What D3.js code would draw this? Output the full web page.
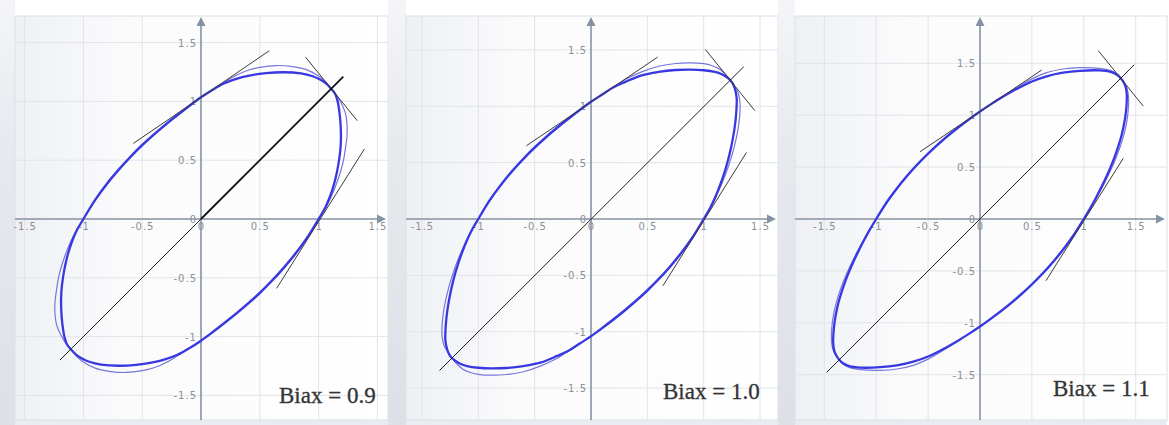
<!DOCTYPE html>
<html>
<head>
<meta charset="utf-8">
<script src="https://cdn.jsdelivr.net/npm/d3@7"></script>
<style>
  body { margin: 0; background: #ffffff; }
  svg { display: block; }
</style>
</head>
<body>
<svg id="chart" width="1169" height="425"></svg>
<script>
// ---- values ----
const tickValues = [-1.5, -1, -0.5, 0, 0.5, 1, 1.5];
const tickLabels = ["-1.5", "-1", "-0.5", "0", "0.5", "1", "1.5"];
const biaxLabels = ["Biax = 0.9", "Biax = 1.0", "Biax = 1.1"];

// yield loci (stress ratios), Biax = 0.9
const thickCurve09 = [
  [1.000, 0.000], [1.058, 0.100], [1.100, 0.200], [1.132, 0.300], [1.156, 0.400], [1.174, 0.500],
  [1.186, 0.600], [1.190, 0.700], [1.187, 0.800], [1.178, 0.900], [1.162, 1.000], [1.140, 1.065],
  [1.105, 1.110],
  [1.060, 1.155], [1.000, 1.192], [0.950, 1.214], [0.850, 1.238], [0.700, 1.248], [0.550, 1.240],
  [0.400, 1.218], [0.300, 1.192], [0.200, 1.155], [0.100, 1.100],
  [0.000, 1.035],
  [-0.100, 0.962], [-0.200, 0.885], [-0.300, 0.805], [-0.400, 0.720], [-0.500, 0.630],
  [-0.600, 0.530], [-0.700, 0.420], [-0.800, 0.300], [-0.900, 0.163],
  [-1.000, 0.000], [-1.058, -0.100], [-1.100, -0.200], [-1.132, -0.300], [-1.156, -0.400], [-1.174, -0.500],
  [-1.186, -0.600], [-1.190, -0.700], [-1.187, -0.800], [-1.178, -0.900], [-1.162, -1.000], [-1.140, -1.065],
  [-1.105, -1.110],
  [-1.060, -1.155], [-1.000, -1.192], [-0.950, -1.214], [-0.850, -1.238], [-0.700, -1.248], [-0.550, -1.240],
  [-0.400, -1.218], [-0.300, -1.192], [-0.200, -1.155], [-0.100, -1.100],
  [0.000, -1.035],
  [0.100, -0.962], [0.200, -0.885], [0.300, -0.805], [0.400, -0.720], [0.500, -0.630],
  [0.600, -0.530], [0.700, -0.420], [0.800, -0.300], [0.900, -0.163]
];
const thinCurve09 = [
  [1.000, 0.000], [1.062, 0.100], [1.112, 0.200], [1.152, 0.300], [1.186, 0.400], [1.212, 0.500],
  [1.228, 0.600], [1.241, 0.700], [1.242, 0.800], [1.228, 0.900], [1.190, 0.990], [1.150, 1.055],
  [1.105, 1.110],
  [1.060, 1.165], [1.000, 1.215], [0.900, 1.268], [0.780, 1.295], [0.640, 1.305], [0.500, 1.290],
  [0.400, 1.265], [0.300, 1.222], [0.200, 1.163], [0.100, 1.100],
  [0.000, 1.035],
  [-0.100, 0.955], [-0.200, 0.876], [-0.300, 0.796], [-0.400, 0.711], [-0.500, 0.620],
  [-0.600, 0.520], [-0.700, 0.410], [-0.800, 0.290], [-0.900, 0.155],
  [-1.000, 0.000], [-1.062, -0.100], [-1.112, -0.200], [-1.152, -0.300], [-1.186, -0.400], [-1.212, -0.500],
  [-1.228, -0.600], [-1.241, -0.700], [-1.242, -0.800], [-1.228, -0.900], [-1.190, -0.990], [-1.150, -1.055],
  [-1.105, -1.110],
  [-1.060, -1.165], [-1.000, -1.215], [-0.900, -1.268], [-0.780, -1.295], [-0.640, -1.305], [-0.500, -1.290],
  [-0.400, -1.265], [-0.300, -1.222], [-0.200, -1.163], [-0.100, -1.100],
  [0.000, -1.035],
  [0.100, -0.955], [0.200, -0.876], [0.300, -0.796], [0.400, -0.711], [0.500, -0.620],
  [0.600, -0.520], [0.700, -0.410], [0.800, -0.290], [0.900, -0.155]
];
const tangents09 = [
  [[-0.575, 0.643], [0.581, 1.431]],
  [[0.890, 1.375], [1.329, 0.836]],
  [[0.643, -0.590], [1.389, 0.595]]
];
const diagonal09 = [[-1.20, -1.20], [1.21, 1.21]];

// yield loci (stress ratios), Biax = 1.0
const thickCurve10 = [
  [1.000, 0.000], [1.058, 0.100], [1.105, 0.200], [1.145, 0.300], [1.180, 0.400], [1.210, 0.500],
  [1.235, 0.600], [1.256, 0.700], [1.273, 0.800], [1.285, 0.900], [1.292, 1.000], [1.292, 1.080],
  [1.275, 1.160], [1.256, 1.205],
  [1.234, 1.234],
  [1.205, 1.258], [1.160, 1.285], [1.100, 1.305], [1.000, 1.320], [0.880, 1.326], [0.750, 1.322],
  [0.600, 1.305], [0.450, 1.275], [0.300, 1.215], [0.200, 1.170], [0.100, 1.105],
  [0.000, 1.040],
  [-0.100, 0.968], [-0.200, 0.892], [-0.300, 0.812], [-0.400, 0.727], [-0.500, 0.635],
  [-0.600, 0.535], [-0.700, 0.425], [-0.800, 0.303], [-0.900, 0.165],
  [-1.000, 0.000], [-1.058, -0.100], [-1.105, -0.200], [-1.145, -0.300], [-1.180, -0.400], [-1.210, -0.500],
  [-1.235, -0.600], [-1.256, -0.700], [-1.273, -0.800], [-1.285, -0.900], [-1.292, -1.000], [-1.292, -1.080],
  [-1.275, -1.160], [-1.256, -1.205],
  [-1.234, -1.234],
  [-1.205, -1.258], [-1.160, -1.285], [-1.100, -1.305], [-1.000, -1.320], [-0.880, -1.326], [-0.750, -1.322],
  [-0.600, -1.305], [-0.450, -1.275], [-0.300, -1.215], [-0.200, -1.170], [-0.100, -1.105],
  [0.000, -1.040],
  [0.100, -0.968], [0.200, -0.892], [0.300, -0.812], [0.400, -0.727], [0.500, -0.635],
  [0.600, -0.535], [0.700, -0.425], [0.800, -0.303], [0.900, -0.165]
];
const thinCurve10 = [
  [1.000, 0.000], [1.060, 0.100], [1.110, 0.200], [1.155, 0.300], [1.195, 0.400], [1.230, 0.500],
  [1.260, 0.600], [1.285, 0.700], [1.305, 0.800], [1.318, 0.900], [1.323, 0.980], [1.320, 1.050],
  [1.305, 1.120], [1.270, 1.180],
  [1.234, 1.234],
  [1.195, 1.280], [1.140, 1.330], [1.070, 1.362], [1.000, 1.378], [0.880, 1.386], [0.750, 1.380],
  [0.600, 1.355], [0.450, 1.305], [0.300, 1.236], [0.200, 1.172], [0.100, 1.106],
  [0.000, 1.040],
  [-0.100, 0.960], [-0.200, 0.883], [-0.300, 0.802], [-0.400, 0.717], [-0.500, 0.625],
  [-0.600, 0.525], [-0.700, 0.415], [-0.800, 0.293], [-0.900, 0.157],
  [-1.000, 0.000], [-1.060, -0.100], [-1.110, -0.200], [-1.155, -0.300], [-1.195, -0.400], [-1.230, -0.500],
  [-1.260, -0.600], [-1.285, -0.700], [-1.305, -0.800], [-1.318, -0.900], [-1.323, -0.980], [-1.320, -1.050],
  [-1.305, -1.120], [-1.270, -1.180],
  [-1.234, -1.234],
  [-1.195, -1.280], [-1.140, -1.330], [-1.070, -1.362], [-1.000, -1.378], [-0.880, -1.386], [-0.750, -1.380],
  [-0.600, -1.355], [-0.450, -1.305], [-0.300, -1.236], [-0.200, -1.172], [-0.100, -1.106],
  [0.000, -1.040],
  [0.100, -0.960], [0.200, -0.883], [0.300, -0.802], [0.400, -0.717], [0.500, -0.625],
  [0.600, -0.525], [0.700, -0.415], [0.800, -0.293], [0.900, -0.157]
];
const tangents10 = [
  [[-0.573, 0.650], [0.591, 1.436]],
  [[1.015, 1.504], [1.454, 0.961]],
  [[0.638, -0.593], [1.380, 0.591]]
];
const diagonal10 = [[-1.344, -1.344], [1.356, 1.352]];

// yield loci (stress ratios), Biax = 1.1
const thickCurve11 = [
  [1.000, 0.000], [1.060, 0.100], [1.115, 0.200], [1.166, 0.300], [1.214, 0.400], [1.258, 0.500],
  [1.298, 0.600], [1.332, 0.700], [1.362, 0.800], [1.385, 0.900], [1.402, 1.000], [1.412, 1.100],
  [1.414, 1.200], [1.404, 1.270], [1.383, 1.318],
  [1.356, 1.356],
  [1.320, 1.390], [1.260, 1.418], [1.150, 1.432], [0.963, 1.428], [0.800, 1.410], [0.642, 1.375],
  [0.500, 1.325], [0.321, 1.235], [0.200, 1.165], [0.100, 1.102],
  [0.000, 1.036],
  [-0.100, 0.965], [-0.200, 0.890], [-0.300, 0.810], [-0.400, 0.724], [-0.500, 0.631],
  [-0.600, 0.530], [-0.700, 0.419], [-0.800, 0.296], [-0.900, 0.159],
  [-1.000, 0.000], [-1.060, -0.100], [-1.115, -0.200], [-1.166, -0.300], [-1.214, -0.400], [-1.258, -0.500],
  [-1.298, -0.600], [-1.332, -0.700], [-1.362, -0.800], [-1.385, -0.900], [-1.402, -1.000], [-1.412, -1.100],
  [-1.414, -1.200], [-1.404, -1.270], [-1.383, -1.318],
  [-1.356, -1.356],
  [-1.320, -1.390], [-1.260, -1.418], [-1.150, -1.432], [-0.963, -1.428], [-0.800, -1.410], [-0.642, -1.375],
  [-0.500, -1.325], [-0.321, -1.235], [-0.200, -1.165], [-0.100, -1.102],
  [0.000, -1.036],
  [0.100, -0.965], [0.200, -0.890], [0.300, -0.810], [0.400, -0.724], [0.500, -0.631],
  [0.600, -0.530], [0.700, -0.419], [0.800, -0.296], [0.900, -0.159]
];
const thinCurve11 = [
  [1.000, 0.000], [1.062, 0.100], [1.120, 0.200], [1.175, 0.300], [1.226, 0.400], [1.273, 0.500],
  [1.315, 0.600], [1.352, 0.700], [1.383, 0.800], [1.407, 0.900], [1.423, 1.000], [1.431, 1.100],
  [1.430, 1.190], [1.415, 1.260], [1.388, 1.312],
  [1.356, 1.356],
  [1.320, 1.397], [1.260, 1.430], [1.150, 1.452], [0.963, 1.458], [0.800, 1.445], [0.642, 1.410],
  [0.500, 1.350], [0.321, 1.245], [0.200, 1.167], [0.100, 1.103],
  [0.000, 1.036],
  [-0.100, 0.958], [-0.200, 0.882], [-0.300, 0.801], [-0.400, 0.715], [-0.500, 0.622],
  [-0.600, 0.521], [-0.700, 0.410], [-0.800, 0.288], [-0.900, 0.152],
  [-1.000, 0.000], [-1.062, -0.100], [-1.120, -0.200], [-1.175, -0.300], [-1.226, -0.400], [-1.273, -0.500],
  [-1.315, -0.600], [-1.352, -0.700], [-1.383, -0.800], [-1.407, -0.900], [-1.423, -1.000], [-1.431, -1.100],
  [-1.430, -1.190], [-1.415, -1.260], [-1.388, -1.312],
  [-1.356, -1.356],
  [-1.320, -1.397], [-1.260, -1.430], [-1.150, -1.452], [-0.963, -1.458], [-0.800, -1.445], [-0.642, -1.410],
  [-0.500, -1.350], [-0.321, -1.245], [-0.200, -1.167], [-0.100, -1.103],
  [0.000, -1.036],
  [0.100, -0.958], [0.200, -0.882], [0.300, -0.801], [0.400, -0.715], [0.500, -0.622],
  [0.600, -0.521], [0.700, -0.410], [0.800, -0.288], [0.900, -0.152]
];
const tangents11 = [
  [[-0.578, 0.648], [0.594, 1.435]],
  [[1.140, 1.621], [1.573, 1.088]],
  [[0.636, -0.594], [1.380, 0.584]]
];
const diagonal11 = [[-1.477, -1.477], [1.485, 1.485]];

// ---- layout ----
const W = 1169, H = 425;
const frames = [
  { gx: 0,   left: 15,  right: 388,  top: 16, bottom: 420, ox: 201, oy: 219, unit: 117.6, lx: 279,  ly: 403, boldUpper: true },
  { gx: 388, left: 406, right: 778,  top: 16, bottom: 420, ox: 591, oy: 219, unit: 112.7, lx: 663,  ly: 399, boldUpper: false },
  { gx: 778, left: 795, right: 1167, top: 16, bottom: 420, ox: 980, oy: 219, unit: 103.8, lx: 1053, ly: 396, boldUpper: false }
];
const thickCurves = [thickCurve09, thickCurve10, thickCurve11];
const thinCurves = [thinCurve09, thinCurve10, thinCurve11];
const tangentSets = [tangents09, tangents10, tangents11];
const diagonals = [diagonal09, diagonal10, diagonal11];

const svg = d3.select("#chart");
const defs = svg.append("defs");

const gut = defs.append("linearGradient").attr("id", "gutter")
  .attr("x1", 0).attr("y1", 0).attr("x2", 0).attr("y2", 1);
gut.append("stop").attr("offset", 0).attr("stop-color", "#f4f5f8");
gut.append("stop").attr("offset", 0.35).attr("stop-color", "#e6e9ee");
gut.append("stop").attr("offset", 1).attr("stop-color", "#dde1e7");

const plotBg = defs.append("linearGradient").attr("id", "plotbg")
  .attr("x1", 0).attr("y1", 0).attr("x2", 1).attr("y2", 0);
plotBg.append("stop").attr("offset", 0).attr("stop-color", "#eef0f4");
plotBg.append("stop").attr("offset", 0.3).attr("stop-color", "#fbfbfc");
plotBg.append("stop").attr("offset", 1).attr("stop-color", "#ffffff");

svg.append("rect").attr("width", W).attr("height", H).attr("fill", "#ffffff");

frames.forEach((f, i) => {
  const g = svg.append("g");
  const x = d3.scaleLinear()
    .domain([(f.left - f.ox) / f.unit, (f.right - f.ox) / f.unit])
    .range([f.left, f.right]);
  const y = d3.scaleLinear()
    .domain([(f.oy - f.bottom) / f.unit, (f.oy - f.top) / f.unit])
    .range([f.bottom, f.top]);

  // side band and plot background
  g.append("rect").attr("x", f.gx).attr("y", 0)
    .attr("width", f.left - f.gx).attr("height", H).attr("fill", "url(#gutter)");
  g.append("rect").attr("x", f.left).attr("y", f.bottom)
    .attr("width", f.right - f.left).attr("height", H - f.bottom).attr("fill", "#e9ecf0");
  g.append("rect").attr("x", f.left).attr("y", f.top)
    .attr("width", f.right - f.left).attr("height", f.bottom - f.top)
    .attr("fill", "url(#plotbg)").attr("stroke", "#dcdfe4").attr("stroke-width", 1);

  // grid
  const gridVals = tickValues.filter(v => v !== 0);
  g.append("g").selectAll("line").data(gridVals).join("line")
    .attr("x1", d => x(d)).attr("x2", d => x(d))
    .attr("y1", f.top).attr("y2", f.bottom)
    .attr("stroke", "#e2e4e8").attr("stroke-width", 1);
  g.append("g").selectAll("line").data(gridVals).join("line")
    .attr("y1", d => y(d)).attr("y2", d => y(d))
    .attr("x1", f.left).attr("x2", f.right)
    .attr("stroke", "#e2e4e8").attr("stroke-width", 1);

  const x0 = x(0), y0 = y(0);

  // tick labels
  const xAxis = d3.axisBottom(x).tickValues(tickValues).tickSize(0).tickPadding(4)
    .tickFormat((d, k) => tickLabels[k]);
  const yAxis = d3.axisLeft(y).tickValues(tickValues).tickSize(0).tickPadding(4)
    .tickFormat((d, k) => tickLabels[k]);
  const styleAxis = sel => {
    sel.select(".domain").remove();
    sel.selectAll("text")
      .attr("fill", "#8c8f94")
      .style("font-family", "'DejaVu Sans', sans-serif")
      .style("font-size", "10px")
      .style("letter-spacing", "1px");
  };
  g.append("g").attr("transform", `translate(0,${y0})`).call(xAxis).call(styleAxis);
  g.append("g").attr("transform", `translate(${x0},0)`).call(yAxis).call(styleAxis)
    .selectAll("text").attr("dy", "0.35em");

  // axes through the origin, with arrow heads
  const axisColor = "#8592a3";
  const xTip = f.right - 2, yTip = f.top + 1;
  g.append("line").attr("x1", f.left).attr("x2", xTip - 6).attr("y1", y0).attr("y2", y0)
    .attr("stroke", axisColor).attr("stroke-width", 1.6);
  g.append("line").attr("x1", x0).attr("x2", x0).attr("y1", f.bottom).attr("y2", yTip + 6)
    .attr("stroke", axisColor).attr("stroke-width", 1.6);
  g.append("path").attr("d", `M${xTip},${y0}L${xTip - 9},${y0 - 4.5}L${xTip - 9},${y0 + 4.5}Z`)
    .attr("fill", axisColor);
  g.append("path").attr("d", `M${x0},${yTip}L${x0 - 4.5},${yTip + 9}L${x0 + 4.5},${yTip + 9}Z`)
    .attr("fill", axisColor);

  // yield loci
  const line = d3.line().x(d => x(d[0])).y(d => y(d[1]))
    .curve(d3.curveCatmullRomClosed.alpha(0.5));
  g.append("path").attr("d", line(thinCurves[i]))
    .attr("fill", "none").attr("stroke", "#7676dc").attr("stroke-width", 1.2);
  g.append("path").attr("d", line(thickCurves[i]))
    .attr("fill", "none").attr("stroke", "#3838e2").attr("stroke-width", 2.3);

  // tangents and the equibiaxial diagonal
  const seg = d3.line().x(d => x(d[0])).y(d => y(d[1]));
  g.append("g").selectAll("path").data(tangentSets[i]).join("path")
    .attr("d", seg).attr("fill", "none").attr("stroke", "#3a3a3a").attr("stroke-width", 1);
  const diag = diagonals[i];
  if (f.boldUpper) {
    g.append("path").attr("d", seg([diag[0], [0, 0]]))
      .attr("fill", "none").attr("stroke", "#222").attr("stroke-width", 1);
    g.append("path").attr("d", seg([[0, 0], diag[1]]))
      .attr("fill", "none").attr("stroke", "#111").attr("stroke-width", 1.8);
  } else {
    g.append("path").attr("d", seg(diag))
      .attr("fill", "none").attr("stroke", "#222").attr("stroke-width", 1);
  }

  // panel caption
  g.append("text").attr("x", f.lx).attr("y", f.ly)
    .attr("fill", "#333333").attr("stroke", "#333333").attr("stroke-width", 0.3)
    .style("font-family", "'Liberation Serif', 'DejaVu Serif', serif")
    .style("font-size", "23px")
    .text(biaxLabels[i]);
});
</script>
</body>
</html>
